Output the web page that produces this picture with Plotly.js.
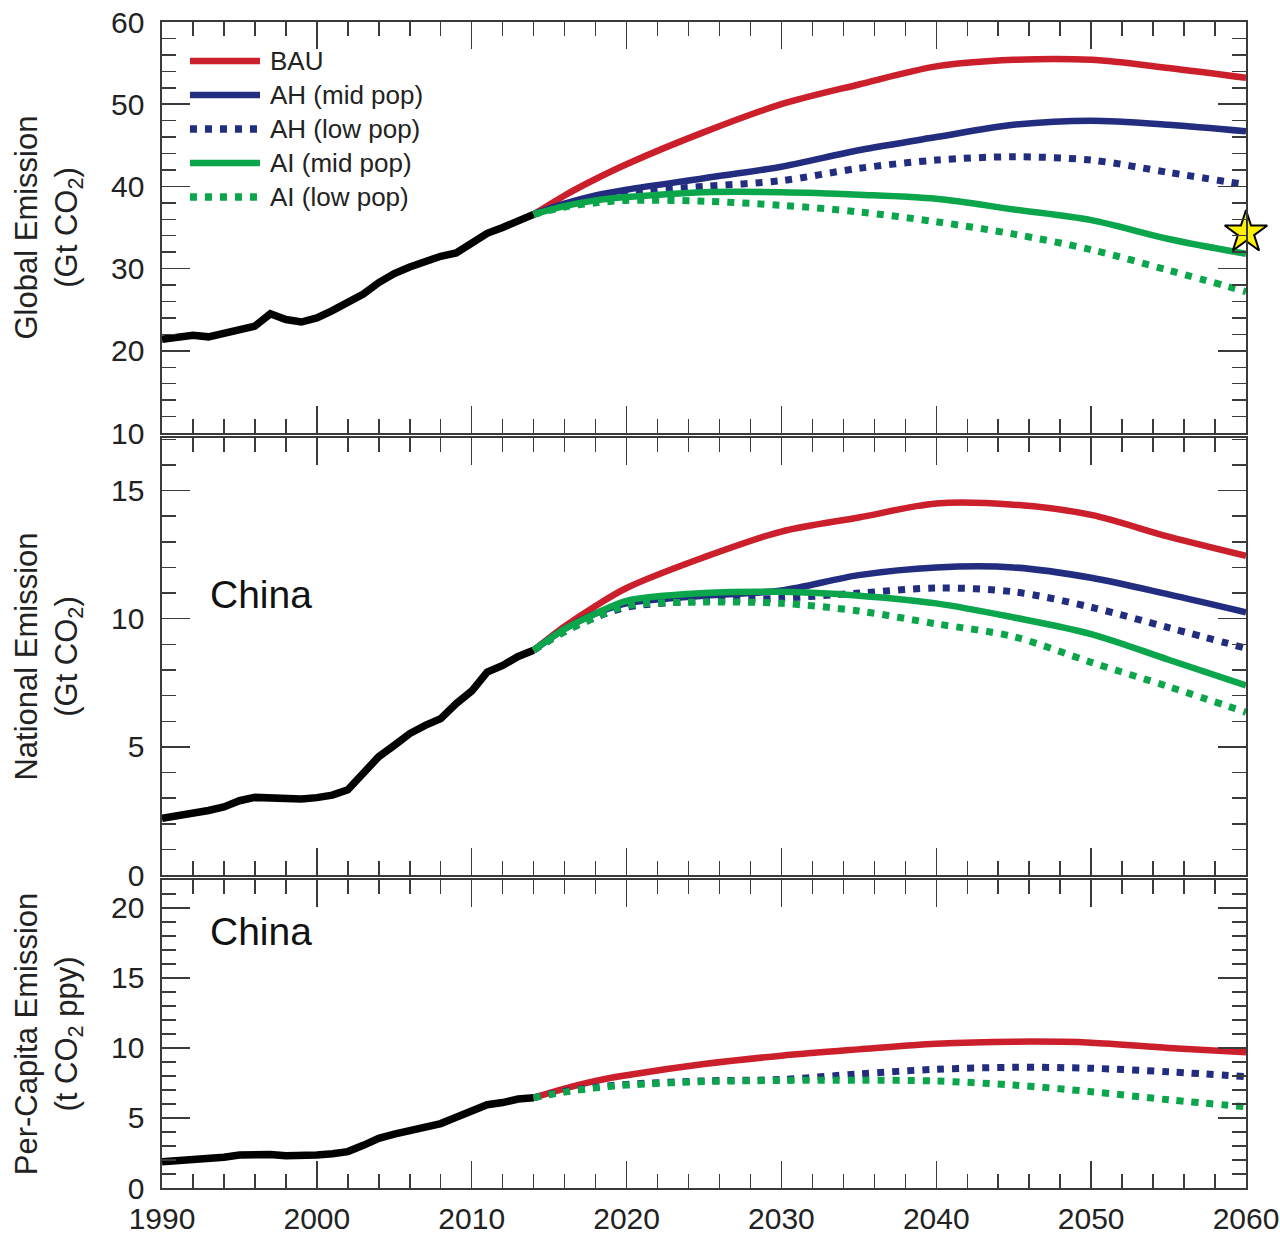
<!DOCTYPE html>
<html>
<head>
<meta charset="utf-8">
<script src="https://cdn.plot.ly/plotly-3.0.1.min.js"></script>
<style>
html,body{margin:0;padding:0;background:#fff;}
#chart{width:1280px;height:1237px;}
</style>
</head>
<body>
<div id="chart"></div>
<script>
// ---------------- DATA ----------------
const histYears = [1990,1991,1992,1993,1994,1995,1996,1997,1998,1999,2000,2001,2002,2003,2004,2005,2006,2007,2008,2009,2010,2011,2012,2013,2014];
const projYears = [2014,2016,2018,2020,2025,2030,2035,2040,2045,2050,2055,2060];

// Global emission (Gt CO2)
const globalHist = [21.4,21.7,21.9,21.7,22.2,22.6,23.0,24.5,23.8,23.5,24.0,24.9,25.8,26.9,28.3,29.4,30.2,30.9,31.5,31.9,33.2,34.3,35.0,35.8,36.6];
const globalBAU   = [36.6,38.9,40.9,42.7,46.6,50.0,52.4,54.6,55.4,55.4,54.4,53.2];
const globalAHmid = [36.6,37.9,38.9,39.6,41.0,42.4,44.4,46.0,47.5,48.0,47.5,46.7];
const globalAHlow = [36.6,37.8,38.7,39.3,40.0,40.7,42.2,43.2,43.6,43.2,41.7,40.2];
const globalAImid = [36.6,37.6,38.3,38.7,39.3,39.3,39.0,38.5,37.2,35.9,33.6,31.8];
const globalAIlow = [36.6,37.5,38.0,38.3,38.2,37.7,36.9,35.7,34.2,32.3,29.8,27.2];
const starYear = [2060];
const starValue = [34.4];

// China national emission (Gt CO2)
const chinaHist = [2.21,2.30,2.40,2.52,2.66,2.90,3.03,3.02,2.96,2.97,3.02,3.12,3.33,3.98,4.62,5.06,5.52,5.84,6.10,6.69,7.18,7.92,8.18,8.53,8.77];
const chinaBAU   = [8.77,9.7,10.5,11.2,12.4,13.4,13.95,14.5,14.45,14.05,13.2,12.45];
const chinaAHmid = [8.77,9.6,10.2,10.6,10.9,11.1,11.7,12.0,12.0,11.6,10.95,10.25];
const chinaAHlow = [8.77,9.5,10.05,10.45,10.7,10.8,11.0,11.2,11.05,10.45,9.65,8.85];
const chinaAImid = [8.77,9.6,10.2,10.7,11.0,11.05,10.9,10.6,10.05,9.4,8.4,7.4];
const chinaAIlow = [8.77,9.5,10.05,10.5,10.65,10.6,10.3,9.8,9.3,8.3,7.35,6.35];

// China per-capita emission (t CO2 per person per year)
const pcHist = [1.88,1.94,2.0,2.1,2.2,2.35,2.43,2.4,2.3,2.3,2.35,2.45,2.6,3.05,3.55,3.85,4.14,4.4,4.6,5.05,5.45,5.95,6.1,6.35,6.45];
const pcBAU   = [6.45,7.1,7.65,8.05,8.85,9.45,9.9,10.3,10.45,10.38,10.0,9.7];
const pcAHlow = [6.45,6.9,7.2,7.4,7.65,7.75,8.15,8.48,8.62,8.55,8.3,7.95];
const pcAIlow = [6.45,6.85,7.15,7.35,7.6,7.68,7.7,7.64,7.35,6.88,6.3,5.8];

const seriesNames = ['BAU','AH (mid pop)','AH (low pop)','AI (mid pop)','AI (low pop)'];
const regionLabel = 'China';

// ---------------- STYLE ----------------
const RED = '#CB1F2B', BLUE = '#222D80', GREEN = '#0BA64B', BLACK = '#000000';
const FONT = 'Liberation Sans, Arial, Helvetica, sans-serif';
const AX = '#3a3a3a';
const DOT = '7px,8px';
const styles = [
  {color: RED, dash: 'solid'},
  {color: BLUE, dash: 'solid'},
  {color: BLUE, dash: DOT},
  {color: GREEN, dash: 'solid'},
  {color: GREEN, dash: DOT}
];

function hist(y, xa, ya) {
  return {x: histYears, y: y, xaxis: xa, yaxis: ya, mode: 'lines', type: 'scatter',
    line: {color: BLACK, width: 7.5, shape: 'linear'}, showlegend: false, hoverinfo: 'skip'};
}
function proj(y, idx, xa, ya) {
  const s = styles[idx];
  return {x: projYears, y: y, xaxis: xa, yaxis: ya, mode: 'lines', type: 'scatter', name: seriesNames[idx],
    line: {color: s.color, width: s.dash === 'solid' ? 6.5 : 7, dash: s.dash, shape: 'spline', smoothing: 0.9},
    showlegend: false};
}

const traces = [
  hist(globalHist, 'x', 'y'),
  proj(globalBAU, 0, 'x', 'y'),
  proj(globalAHmid, 1, 'x', 'y'),
  proj(globalAHlow, 2, 'x', 'y'),
  proj(globalAImid, 3, 'x', 'y'),
  proj(globalAIlow, 4, 'x', 'y'),
  {x: starYear, y: starValue, xaxis: 'x', yaxis: 'y', mode: 'markers', type: 'scatter', cliponaxis: false,
    marker: {symbol: 'star', size: 32, color: '#FFF200', line: {color: '#000', width: 2}}, showlegend: false},

  hist(chinaHist, 'x2', 'y2'),
  proj(chinaBAU, 0, 'x2', 'y2'),
  proj(chinaAHmid, 1, 'x2', 'y2'),
  proj(chinaAHlow, 2, 'x2', 'y2'),
  proj(chinaAImid, 3, 'x2', 'y2'),
  proj(chinaAIlow, 4, 'x2', 'y2'),

  hist(pcHist, 'x3', 'y3'),
  proj(pcBAU, 0, 'x3', 'y3'),
  proj(pcAHlow, 2, 'x3', 'y3'),
  proj(pcAIlow, 4, 'x3', 'y3')
];

function xaxis(anchor, labels) {
  return {
    domain: [0, 1], anchor: anchor, range: [1990, 2060], tick0: 1990, dtick: 10,
    showline: true, linecolor: AX, linewidth: 1.6, mirror: 'ticks',
    ticks: 'inside', ticklen: 27, tickwidth: 1.5, tickcolor: AX,
    minor: {dtick: 2, tick0: 1990, ticks: 'inside', ticklen: 14, tickwidth: 1.5, tickcolor: AX, showgrid: false},
    showgrid: false, zeroline: false, showticklabels: labels,
    ticklabelstandoff: 3,
    tickfont: {family: FONT, size: 30, color: '#222'}
  };
}
function yaxis(anchor, domain, range, dtick, mdtick, title, standoff) {
  return {
    domain: domain, anchor: anchor, range: range, dtick: dtick, tick0: 0,
    showline: true, linecolor: AX, linewidth: 1.6, mirror: 'ticks',
    ticks: 'inside', ticklen: 28, tickwidth: 1.5, tickcolor: AX,
    minor: {dtick: mdtick, tick0: 0, ticks: 'inside', ticklen: 14, tickwidth: 1.5, tickcolor: AX, showgrid: false},
    showgrid: false, zeroline: false,
    ticklabelstandoff: 10,
    tickfont: {family: FONT, size: 30, color: '#222'},
    title: {text: title, standoff: standoff, font: {family: FONT, size: 31, color: '#222'}}
  };
}

// custom legend (top-left of top panel)
const legY = [0.9666, 0.9374, 0.9082, 0.8791, 0.8499];
const shapes = [], annotations = [];
styles.forEach(function(s, i) {
  shapes.push({type: 'line', xref: 'paper', yref: 'paper', x0: 0.0258, x1: 0.0904, y0: legY[i], y1: legY[i],
    line: {color: s.color, width: s.dash === 'solid' ? 6.5 : 7.5, dash: s.dash}});
  annotations.push({xref: 'paper', yref: 'paper', x: 0.0978, y: legY[i], xanchor: 'left', yanchor: 'middle',
    text: seriesNames[i], showarrow: false, font: {family: FONT, size: 26, color: '#222'}});
});
annotations.push({xref: 'paper', yref: 'paper', x: 0.0425, y: 0.5094, xanchor: 'left', yanchor: 'middle',
  text: regionLabel, showarrow: false, font: {family: FONT, size: 39, color: '#111'}});
annotations.push({xref: 'paper', yref: 'paper', x: 0.0425, y: 0.2204, xanchor: 'left', yanchor: 'middle',
  text: regionLabel, showarrow: false, font: {family: FONT, size: 39, color: '#111'}});

const layout = {
  width: 1280, height: 1237,
  margin: {l: 162, r: 34, t: 22, b: 49, autoexpand: false},
  paper_bgcolor: '#fff', plot_bgcolor: 'rgba(0,0,0,0)',
  font: {family: FONT, color: '#222'},
  showlegend: false,
  xaxis: xaxis('y', false),
  xaxis2: xaxis('y2', false),
  xaxis3: xaxis('y3', true),
  yaxis: yaxis('x', [0.6475, 1], [10, 60], 10, 2, 'Global Emission<br>(Gt CO<sub>2</sub>)', 24),
  yaxis2: yaxis('x2', [0.2684, 0.6432], [0, 17.05], 5, 1, 'National Emission<br>(Gt CO<sub>2</sub>)', 24),
  yaxis3: yaxis('x3', [0, 0.2642], [0, 22], 5, 1, 'Per-Capita Emission<br>(t CO<sub>2</sub> ppy)', 24),
  shapes: shapes,
  annotations: annotations
};
['xaxis','xaxis2','xaxis3','yaxis','yaxis2','yaxis3'].forEach(function(k){ layout[k].automargin = false; });

Plotly.newPlot('chart', traces, layout, {displayModeBar: false, staticPlot: true});
</script>
</body>
</html>
